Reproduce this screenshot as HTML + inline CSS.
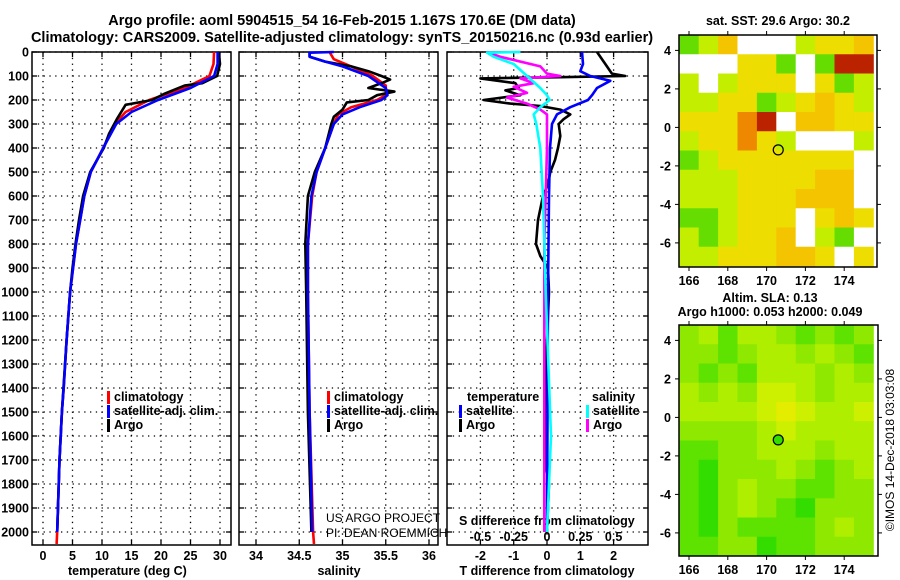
<!DOCTYPE html>
<html><head><meta charset="utf-8"><style>
html,body{margin:0;padding:0;background:#fff;}
svg{display:block;font-family:"Liberation Sans",sans-serif;}
.b{font-weight:bold;font-size:12.5px;}
</style></head><body>
<svg id="s" width="900" height="580" viewBox="0 0 900 580">
<text x="342" y="25" text-anchor="middle" class="b" style="font-size:14.5px">Argo profile: aoml 5904515_54 16-Feb-2015 1.167S 170.6E (DM data)</text>
<text x="342" y="42" text-anchor="middle" class="b" style="font-size:14.5px">Climatology: CARS2009. Satellite-adjusted climatology: synTS_20150216.nc (0.93d earlier)</text>
<text x="778" y="25" text-anchor="middle" class="b">sat. SST: 29.6 Argo: 30.2</text>
<text x="770" y="302" text-anchor="middle" class="b">Altim. SLA: 0.13</text>
<text x="770" y="316" text-anchor="middle" class="b">Argo h1000: 0.053 h2000: 0.049</text>
<text transform="translate(894,450) rotate(-90)" text-anchor="middle" style="font-size:12px">©IMOS 14-Dec-2018 03:03:08</text>
<text x="68" y="575" text-anchor="start" class="b">temperature (deg C)</text>
<text x="339" y="575" text-anchor="middle" class="b">salinity</text>
<text x="547" y="575" text-anchor="middle" class="b">T difference from climatology</text>
<text x="459" y="525" class="b">S difference from climatology</text>
<text x="326" y="522" style="font-size:12px">US ARGO PROJECT</text>
<text x="326" y="537" style="font-size:12px">PI: DEAN ROEMMICH</text>
</svg>
<script>
// ---------- data ----------
const depthTicks=[0,100,200,300,400,500,600,700,800,900,1000,1100,1200,1300,1400,1500,1600,1700,1800,1900,2000];
const tempTicks=[0,5,10,15,20,25,30];
const salTicks=[34,34.5,35,35.5,36];
const salTickLabels=["34","34.5","35","35.5","36"];
const tdTicks=[-2,-1,0,1,2];
const sdTicks=[-0.5,-0.25,0,0.25,0.5];
const sdTickLabels=["-0.5","-0.25","0","0.25","0.5"];

const tClimDepth=[0,50,100,150,200,250,300,400,500,600,700,800,900,1000,1200,1400,1500,1700,2000,2050];
const tClim=[29.0,28.9,28.2,24,18,14,12.2,10.2,8.1,7.0,6.3,5.6,5.1,4.6,4.0,3.5,3.2,2.8,2.4,2.3];
const tSatDepth=[0,50,100,150,200,250,300,400,500,600,700,800,900,1000,1200,1400,1500,1700,2000];
const tSat=[29.6,29.6,29.0,25,19.5,15,12.4,10.2,8.1,7.0,6.3,5.6,5.1,4.6,4.0,3.5,3.2,2.8,2.4];
const tArgoDepth=[0,50,100,130,140,175,200,220,240,280,340,400,500,600,700,800,900,1000,1200,1500,1700,2000];
const tArgo=[29.8,30.0,29.5,27,24,20.5,18.5,14,13.5,12.5,11.2,10.3,8.0,6.8,6.1,5.5,5.0,4.6,4.0,3.2,2.8,2.4];

const sClimDepth=[0,30,60,100,140,180,200,230,260,300,350,400,500,600,800,1000,1500,2000,2050];
const sClim=[34.85,34.9,35.1,35.35,35.5,35.5,35.4,35.1,34.95,34.9,34.85,34.8,34.7,34.65,34.6,34.6,34.62,34.66,34.67];
const sSatDepth=[0,3,20,40,60,100,150,180,200,230,260,300,350,400,500,600,800,1000,1500,2000];
const sSat=[34.9,34.62,34.62,34.8,35.0,35.3,35.5,35.52,35.45,35.2,35.0,34.9,34.85,34.8,34.7,34.64,34.6,34.6,34.62,34.65];
const sArgoDepth=[0,20,40,60,80,100,115,130,150,165,180,200,210,240,270,300,400,500,600,800,1000,1500,2000];
const sArgo=[34.62,34.62,34.8,35.1,35.3,35.45,35.55,35.45,35.3,35.6,35.4,35.3,35.05,35.0,34.9,34.87,34.8,34.68,34.6,34.57,34.58,34.6,34.64];

const dTSatDepth=[0,50,80,100,120,150,180,200,230,260,300,400,600,1000,2000];
const dTSat=[1.05,1.08,1.0,1.3,1.9,1.5,1.35,1.23,0.7,0.3,0.15,0.09,0.06,0.03,0.0];
const dTArgoDepth=[0,50,90,100,105,110,130,150,160,180,200,215,225,240,260,280,300,350,400,450,500,550,600,700,800,850,900,1000,1200,1500,1700,1800,2000];
const dTArgo=[1.5,1.75,1.95,2.35,0.4,-2.0,-0.95,-0.85,-1.25,-0.8,-1.9,-1.1,-0.2,0.4,0.7,0.5,0.35,0.4,0.33,0.24,0.1,0.03,-0.12,-0.27,-0.33,-0.2,0.03,0.06,0.0,-0.06,-0.06,0.06,0.0];
const dSSatDepth=[0,3,20,50,100,150,180,200,230,260,300,400,600,1000,1600,2000];
const dSSat=[-0.2,-0.45,-0.4,-0.25,-0.15,-0.05,0.0,0.02,-0.05,-0.1,-0.08,-0.05,-0.03,-0.01,0.03,0.0];
const dSArgoDepth=[0,20,60,90,100,110,130,145,170,190,215,240,260,400,800,2000];
const dSArgo=[-0.45,-0.35,-0.05,0.0,0.1,-0.2,-0.1,-0.25,-0.15,-0.3,-0.15,-0.05,0.0,0.0,-0.02,-0.02];

// SST map: 1-degree cells, lat rows from 4.8 down, lon cols from 165.5; 0 = missing
const sstLon=[165.5,166.5,167.5,168.5,169.5,170.5,171.5,172.5,173.5,174.5];
const sstLat=[4.8,3.8,2.8,1.8,0.8,-0.2,-1.2,-2.2,-3.2,-4.2,-5.2,-6.2];
const sstCode=[
[1,2,4,0,0,0,2,3,3,4],[0,0,0,3,3,1,0,1,6,6],[2,0,2,3,3,3,0,3,1,2],[2,2,3,3,1,2,3,4,3,2],
[3,3,3,5,6,0,4,4,3,3],[2,3,3,5,3,2,0,0,0,2],[1,2,3,3,3,3,3,3,3,0],[2,2,2,3,3,3,3,4,4,0],
[2,2,2,3,3,3,4,4,4,0],[1,1,2,3,3,3,0,3,4,3],[2,1,2,3,3,4,0,2,1,0],[2,2,3,3,3,4,4,3,0,3]];
const slaCode=[
[2,3,1,3,3,2,1,2,1,2],[2,2,1,2,3,3,2,3,2,1],[2,1,2,1,3,3,3,2,3,2],[3,2,3,2,4,4,3,2,3,3],
[3,3,3,3,4,5,4,3,3,4],[2,2,2,2,3,4,3,3,3,3],[1,1,2,2,3,3,3,2,3,3],[1,0,2,2,2,3,2,1,2,3],
[1,0,2,3,2,2,1,1,2,2],[1,0,2,3,2,1,0,2,2,2],[1,0,2,1,1,1,1,2,3,2],[1,1,2,2,0,1,1,2,2,2]];
const mapLonTicks=[166,168,170,172,174];
const mapLatTicks=[4,2,0,-2,-4,-6];
const floatLon=170.6, floatLat=-1.167;

// ---------- helpers ----------
const NS="http://www.w3.org/2000/svg";
const svg=document.getElementById('s');
function mk(tag,at,parent){const e=document.createElementNS(NS,tag);for(const k in at)e.setAttribute(k,at[k]);(parent||svg).appendChild(e);return e;}
const Y0=52,Y1=545;
const yD=d=>Y0+d*0.24;
const xT=t=>43+t*5.9;
const xS=s=>256+(s-34)*86.5;
const xDT=t=>547+t*33.3;
const xDS=s=>547+s*133.2;

function panel(name,x0,x1,xt,xticks,labels){
  const g=mk('g',{});
  
  
  depthTicks.forEach(d=>{const y=yD(d);
    const l=mk('line',{x1:x0,x2:x1,y1:y,y2:y,stroke:'#000','stroke-width':1.3,'stroke-dasharray':'1.3 4.5'},g);
    
    mk('line',{x1:x0,x2:x0+5,y1:y,y2:y,stroke:'#000','stroke-width':1.3},g);
    mk('line',{x1:x1-5,x2:x1,y1:y,y2:y,stroke:'#000','stroke-width':1.3},g);
  });
  xticks.forEach((v,i)=>{const x=xt(v);
    const l=mk('line',{x1:x,x2:x,y1:Y0,y2:Y1,stroke:'#000','stroke-width':1.3,'stroke-dasharray':'1.3 4.5'},g);
    
    mk('line',{x1:x,x2:x,y1:Y1-5,y2:Y1,stroke:'#000','stroke-width':1.3},g);
    mk('line',{x1:x,x2:x,y1:Y0,y2:Y0+5,stroke:'#000','stroke-width':1.3},g);
    const t=mk('text',{x:x,y:560,'text-anchor':'middle',class:'b'},g);t.textContent=labels[i];
    
  });
  const f=mk('rect',{x:x0,y:Y0,width:x1-x0,height:Y1-Y0,fill:'none',stroke:'#000','stroke-width':1.5},g);
  
  return g;
}
function line(depths,vals,xf,color,name,w){
  const p=depths.map((d,i)=>(i?'L':'M')+xf(vals[i]).toFixed(1)+' '+yD(d).toFixed(1)).join('');
  const e=mk('path',{d:p,fill:'none',stroke:color,'stroke-width':w||2.6,'stroke-linejoin':'round'});
  
}
panel('temperature-panel',32,231,xT,tempTicks,tempTicks.map(String));
panel('salinity-panel',239,438,xS,salTicks,salTickLabels);
panel('difference-panel',447,648,xDT,tdTicks,tdTicks.map(String));
depthTicks.forEach(d=>{const t=mk('text',{x:29,y:yD(d)+4.5,'text-anchor':'end',class:'b'});t.textContent=d;
  });
sdTicks.forEach((v,i)=>{const t=mk('text',{x:xDS(v),y:541,'text-anchor':'middle',class:'b'});t.textContent=sdTickLabels[i];
  });

line(tClimDepth,tClim,xT,'#f00','temp-climatology-line');
line(tArgoDepth,tArgo,xT,'#000','temp-argo-line');
line(tSatDepth,tSat,xT,'#00f','temp-satellite-line');
line(sClimDepth,sClim,xS,'#f00','sal-climatology-line');
line(sArgoDepth,sArgo,xS,'#000','sal-argo-line');
line(sSatDepth,sSat,xS,'#00f','sal-satellite-line');
line(dTArgoDepth,dTArgo,xDT,'#000','tdiff-argo-line');
line(dTSatDepth,dTSat,xDT,'#00f','tdiff-satellite-line');
line(dSArgoDepth,dSArgo,xDS,'#f0f','sdiff-argo-line');
line(dSSatDepth,dSSat,xDS,'#0ff','sdiff-satellite-line');

function legend(x,y,color,label,name){
  const r=mk('rect',{x:x,y:y-10,width:3,height:13,fill:color});
  
  const t=mk('text',{x:x+7,y:y,class:'b'});t.textContent=label;
  
}
legend(107,401,'#f00','climatology','legend-t-climatology');
legend(107,415,'#00f','satellite-adj. clim.','legend-t-satellite');
legend(107,429,'#000','Argo','legend-t-argo');
legend(327,401,'#f00','climatology','legend-s-climatology');
legend(327,415,'#00f','satellite-adj. clim.','legend-s-satellite');
legend(327,429,'#000','Argo','legend-s-argo');
{const t=mk('text',{x:467,y:401,class:'b'});t.textContent='temperature';}
{const t=mk('text',{x:592,y:401,class:'b'});t.textContent='salinity';}
legend(459,415,'#00f','satellite','legend-dt-satellite');
legend(459,429,'#000','Argo','legend-dt-argo');
legend(586,415,'#0ff','satellite','legend-ds-satellite');
legend(586,429,'#f0f','Argo','legend-ds-argo');

// ---------- maps ----------
const sstColors=['#fff','#66dd00','#c4ee00','#eedd00','#f5c400','#ee8800','#bb2200'];
const slaColors=['#33dd00','#5ee200','#8ee800','#b0ee00','#ccf000','#e4ec00'];
function map(name,x0,x1,y0,y1,latTop,codes,colors,filled){
  const g=mk('g',{});
  
  const lx=v=>689+(v-166)*19.4, ly=v=>y0+(latTop-v)*19.25;
  codes.forEach((row,r)=>row.forEach((c,k)=>{
    const xa=Math.max(x0,lx(sstLon[k])),xb=Math.min(x1,lx(sstLon[k]+1));
    const ya=ly(sstLat[r]),yb=Math.min(y1,ly(sstLat[r]-1));
    const e=mk('rect',{x:xa,y:ya,width:xb-xa+0.5,height:yb-ya+0.5,fill:colors[c]},g);
    
  }));
  mapLonTicks.forEach(v=>{const x=lx(v);
    mk('line',{x1:x,x2:x,y1:y1,y2:y1+4,stroke:'#000'},g);mk('line',{x1:x,x2:x,y1:y0-4,y2:y0,stroke:'#000'},g);
    const t=mk('text',{x:x,y:y1+18,'text-anchor':'middle',class:'b'},g);t.textContent=v;
    });
  mapLatTicks.forEach(v=>{const y=ly(v);
    mk('line',{x1:x0-4,x2:x0,y1:y,y2:y,stroke:'#000'},g);mk('line',{x1:x1,x2:x1+4,y1:y,y2:y,stroke:'#000'},g);
    const t=mk('text',{x:x0-8,y:y+4.5,'text-anchor':'end',class:'b'},g);t.textContent=v;
    });
  const c=mk('circle',{cx:lx(floatLon),cy:ly(floatLat),r:5,fill:filled?'#33dd00':'none',stroke:'#000','stroke-width':1.2},g);
  
  const f=mk('rect',{x:x0,y:y0,width:x1-x0,height:y1-y0,fill:'none',stroke:'#000','stroke-width':1.5},g);
  
}
map('sst-map',679,877,35,267,4.8,sstCode,sstColors,false);
map('sla-map',679,878,325,556,4.8,slaCode,slaColors,true);
</script>
</body></html>
